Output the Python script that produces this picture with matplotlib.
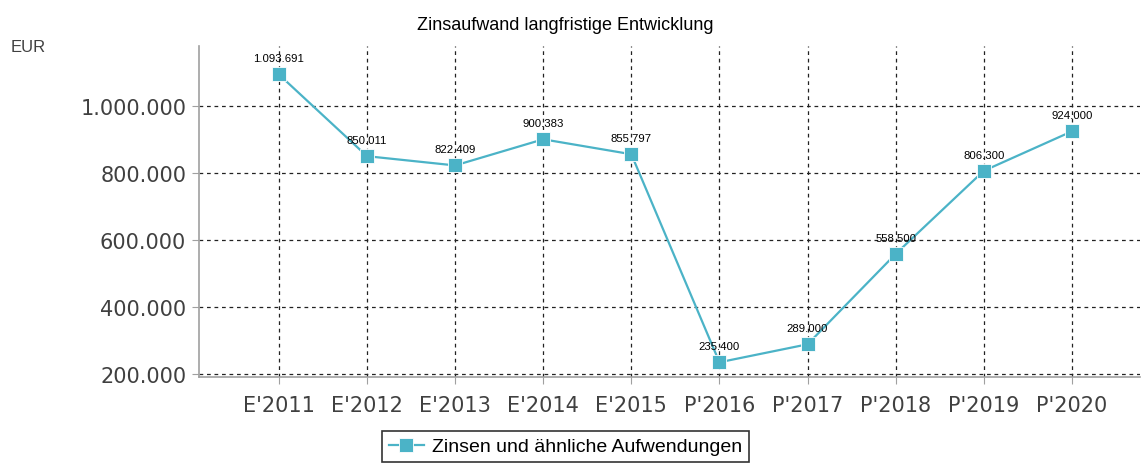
import matplotlib
matplotlib.use("Agg")
from matplotlib import pyplot as plt
from matplotlib.ticker import FuncFormatter

# data
years = ["E'2011", "E'2012", "E'2013", "E'2014", "E'2015",
         "P'2016", "P'2017", "P'2018", "P'2019", "P'2020"]
values = [1093691, 850011, 822409, 900383, 855797,
          235400, 289000, 558500, 806300, 924000]
y_ticks = [200000, 400000, 600000, 800000, 1000000]
series_name = "Zinsen und ähnliche Aufwendungen"


def de_format(v, pos=None):
    # german thousands separator
    return f"{int(v):,}".replace(",", ".")


line_color = "#4BB3C7"
grey = "#404040"

fig = plt.figure(figsize=(11.42, 4.64), dpi=100)
ax = fig.add_axes([0.174, 0.185, 0.824, 0.714])

x = list(range(len(years)))
ax.plot(x, values, color=line_color, linewidth=1.6, marker="s",
        markersize=10.5, markerfacecolor=line_color,
        markeredgecolor="white", markeredgewidth=0.6, label=series_name,
        zorder=3)

# value labels above the points
for xi, v in zip(x, values):
    ax.annotate(de_format(v), (xi, v), xytext=(0, 8), textcoords="offset points",
                ha="center", va="bottom", fontsize=8.2,
                family="Liberation Sans", color="black", zorder=4)

ax.set_xlim(-0.91, 9.77)
ax.set_ylim(191000, 1179000)
ax.set_xticks(x)
ax.set_xticklabels(years)
ax.set_yticks(y_ticks)
ax.yaxis.set_major_formatter(FuncFormatter(de_format))

ax.grid(True, color="#222222", linestyle=(0, (3, 3)), linewidth=0.9)
ax.set_axisbelow(True)

for side in ["top", "right"]:
    ax.spines[side].set_visible(False)
for side in ["left", "bottom"]:
    ax.spines[side].set_color("#a0a0a0")
    ax.spines[side].set_linewidth(1.2)

ax.tick_params(axis="both", colors="#a0a0a0", length=5, width=0.8,
               labelsize=15, labelcolor=grey)
ax.tick_params(axis="x", pad=8)
ax.tick_params(axis="y", pad=4)
for lbl in ax.get_xticklabels() + ax.get_yticklabels():
    lbl.set_family("DejaVu Sans")

fig.text(0.495, 0.945, "Zinsaufwand langfristige Entwicklung", ha="center",
         va="center", fontsize=13, family="Liberation Sans", color="black")
fig.text(0.009, 0.898, "EUR", ha="left", va="center", fontsize=12,
         family="Liberation Sans", color=grey)

leg = fig.legend(loc="upper center", bbox_to_anchor=(0.495, 0.09),
                 frameon=True, fancybox=False,
                 prop={"family": "Liberation Sans", "size": 14},
                 handlelength=1.8, borderpad=0.35, handletextpad=0.4)
leg.get_frame().set_edgecolor("black")
leg.get_frame().set_linewidth(1.2)

fig.savefig("out.png", dpi=100)
